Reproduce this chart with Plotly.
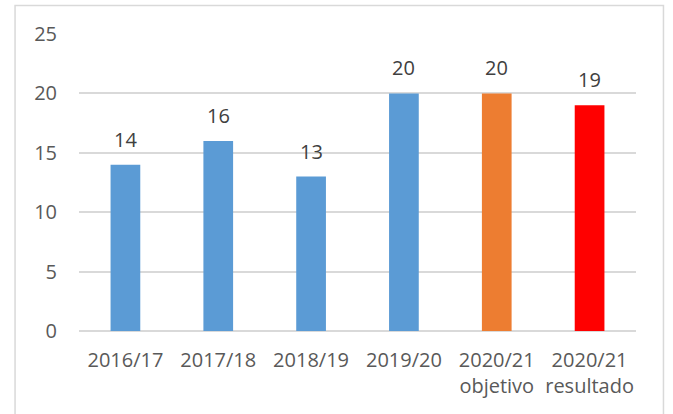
import plotly.graph_objects as go

categories = ["2016/17", "2017/18", "2018/19", "2019/20", "2020/21<br>objetivo", "2020/21<br>resultado"]
values = [14, 16, 13, 20, 20, 19]
bar_colors = ["#5B9BD5", "#5B9BD5", "#5B9BD5", "#5B9BD5", "#ED7D31", "#FF0000"]
y_ticks = [0, 5, 10, 15, 20, 25]

FONT = "Open Sans"
FS = 20

fig = go.Figure()
fig.add_trace(go.Bar(
    x=categories, y=values,
    marker=dict(color=bar_colors, line=dict(width=0)),
    hoverinfo="skip",
))

for c, v in zip(categories, values):
    fig.add_annotation(x=c, y=v, text=str(v), showarrow=False,
                       yanchor="bottom", yshift=10,
                       font=dict(family=FONT, size=FS, color="#404040"))

# chart border
fig.add_shape(type="rect", xref="paper", yref="paper",
              x0=-0.1148, x1=1.0493, y0=-0.32, y1=1.0956,
              line=dict(color="#D9D9D9", width=1.5), fillcolor="rgba(0,0,0,0)",
              layer="below")

fig.update_layout(
    width=673, height=414,
    margin=dict(l=79, r=36.5, t=33.5, b=82.5),
    paper_bgcolor="white", plot_bgcolor="white",
    bargap=0.68,
    showlegend=False,
    font=dict(family=FONT, size=FS, color="#595959"),
)
fig.update_xaxes(showgrid=False, showline=False, zeroline=False, ticks="",
                 ticklabelstandoff=15,
                 tickfont=dict(family=FONT, size=FS, color="#595959"))
fig.update_yaxes(range=[0, 25], tickvals=y_ticks, showgrid=True,
                 gridcolor="#D9D9D9", gridwidth=1.5, zeroline=True,
                 zerolinecolor="#D9D9D9", zerolinewidth=1.5, showline=False,
                 ticks="", ticklabelstandoff=21,
                 tickfont=dict(family=FONT, size=FS, color="#595959"))

fig.write_html("out.html", config={"displayModeBar": False},
               post_script="document.body.style.margin='0';")
